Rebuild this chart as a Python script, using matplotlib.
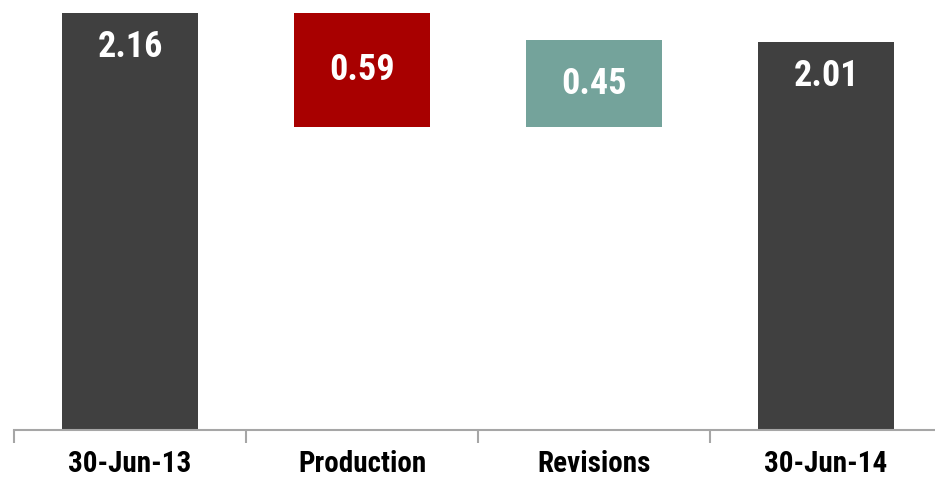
import matplotlib.pyplot as plt
from matplotlib import transforms

# waterfall: opening balance, movements, closing balance
categories = ["30-Jun-13", "Production", "Revisions", "30-Jun-14"]
values = [2.16, -0.59, 0.45, 2.01]
kinds = ["total", "delta", "delta", "total"]
labels = ["2.16", "0.59", "0.45", "2.01"]

colors = {"total": "#404040", "neg": "#A80000", "pos": "#74A39B"}

plt.rcParams["font.family"] = ["Roboto Condensed", "DejaVu Sans"]

fig = plt.figure(figsize=(9.35, 4.79), dpi=100)
ax = fig.add_axes([14 / 935, 49 / 479, 928 / 935, 430 / 479])

level = 0.0
for i, (cat, v, k, lab) in enumerate(zip(categories, values, kinds, labels)):
    if k == "total":
        bottom, height, col = 0.0, v, colors["total"]
        level = v
        ytxt = v - 0.175
    else:
        if v < 0:
            bottom, height, col = level + v, -v, colors["neg"]
        else:
            bottom, height, col = level, v, colors["pos"]
        level += v
        ytxt = bottom + height / 2
    ax.bar(i, height, bottom=bottom, width=0.59, color=col, edgecolor="none")
    ax.text(i, ytxt, lab, ha="center", va="center", color="white",
            fontsize=26, fontweight="bold")

ax.set_xlim(-0.5, 3.5)
ax.set_ylim(0, 2.23)
for s in ["top", "right", "left"]:
    ax.spines[s].set_visible(False)
ax.spines["bottom"].set_color("#A6A6A6")
ax.spines["bottom"].set_linewidth(1.5)
ax.set_yticks([])

# ticks sit between categories; names are drawn under each bar
ax.set_xticks([-0.5, 0.5, 1.5, 2.5, 3.5])
ax.set_xticklabels([])
ax.tick_params(axis="x", direction="out", length=9, width=1.5, color="#A6A6A6")

trans = transforms.blended_transform_factory(ax.transData, fig.transFigure)
for i, cat in enumerate(categories):
    ax.text(i, 7 / 479, cat, transform=trans, ha="center", va="baseline",
            fontsize=21, fontweight="bold", color="black")

fig.savefig("out.png", dpi=100)
